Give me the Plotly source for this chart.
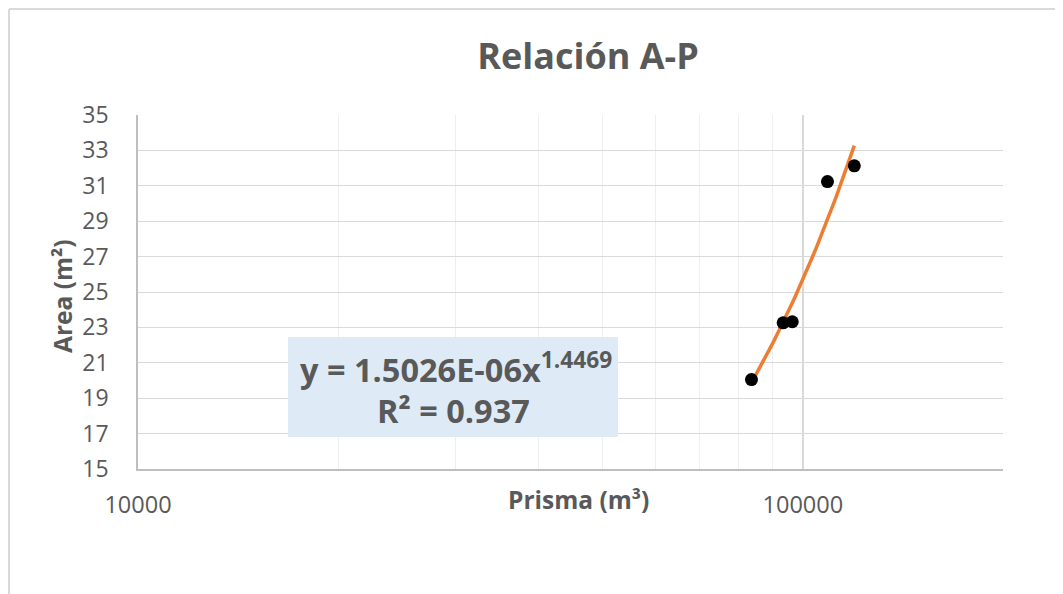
import numpy as np
import plotly.graph_objects as go

# Prisma (m3) vs Area (m2)
prisma = [83700, 93400, 96400, 108900, 119500]
area = [20.05, 23.26, 23.32, 31.24, 32.13]

x_ticks = [10000, 100000]
x_minor = [20000, 30000, 40000, 50000, 60000, 70000, 80000, 90000, 200000]

eq_text = "y = 1.5026E-06x<sup>1.4469</sup>"
r2_text = "R² = 0.937"

TXT = "#595959"
FONT = "Open Sans"

# the page body adds 8px, so the plot area is set 8px up/left of the target
PX0, PY0, PW, PH = 138, 115, 865, 354


def px(x):
    return (x - PX0) / PW


def py(y):
    return (PY0 + PH - y) / PH


# power trendline, least squares in log-log like Excel does
b, a = np.polyfit(np.log10(prisma), np.log10(area), 1)
trend_x = np.geomspace(min(prisma), max(prisma), 60)
trend_y = 10 ** a * trend_x ** b

fig = go.Figure()
fig.add_trace(go.Scatter(
    x=trend_x, y=trend_y, mode="lines",
    line=dict(color="#ED7D31", width=3.5),
    hoverinfo="skip"))
fig.add_trace(go.Scatter(
    x=prisma, y=area, mode="markers",
    marker=dict(color="black", size=13)))

fig.update_layout(
    width=1063, height=594,
    margin=dict(l=PX0 - 8, r=1063 - (PX0 - 8) - PW, t=PY0 - 8, b=594 - (PY0 - 8) - PH),
    plot_bgcolor="white", paper_bgcolor="white",
    showlegend=False,
    font=dict(family=FONT, color=TXT),
    title=dict(text="<b>Relación A-P</b>", x=(588 - 8) / 1063, xanchor="center",
               y=1 - (56 - 8) / 594, yanchor="middle",
               font=dict(size=36, color=TXT, family=FONT)),
)

fig.update_xaxes(
    type="log", range=[4, np.log10(200000)],
    tickvals=x_ticks, ticktext=[str(v) for v in x_ticks],
    tickfont=dict(size=23.5, color=TXT),
    ticklabelstandoff=14,
    showgrid=True, gridcolor="#D9D9D9", gridwidth=1.5,
    minor=dict(tickvals=x_minor, showgrid=True, gridcolor="#EEEEEE", gridwidth=1),
    showline=True, linecolor="#BFBFBF", linewidth=1.5,
    zeroline=False,
)
fig.update_yaxes(
    range=[15, 35], dtick=2, tick0=15,
    tickfont=dict(size=23, color=TXT),
    ticklabelstandoff=23,
    showgrid=True, gridcolor="#D9D9D9", gridwidth=1,
    showline=True, linecolor="#BFBFBF", linewidth=1.5,
    zeroline=False,
)

# axis titles, placed as in the Excel chart
fig.add_annotation(text="<b>Prisma (m³)</b>", xref="paper", yref="paper",
                   x=px(578), y=py(500), xanchor="center", yanchor="middle",
                   showarrow=False, font=dict(size=24.5, color=TXT))
fig.add_annotation(text="<b>Area (m²)</b>", xref="paper", yref="paper",
                   x=px(62), y=py(296), xanchor="center", yanchor="middle",
                   showarrow=False, textangle=-90,
                   font=dict(size=24.5, color=TXT))

# equation box
fig.add_shape(type="rect", xref="paper", yref="paper",
              x0=px(288), x1=px(618), y0=py(437), y1=py(337),
              fillcolor="#DEEBF7", line=dict(width=0), layer="above")
fig.add_annotation(text="<b>" + eq_text + "</b>", xref="paper", yref="paper",
                   x=px(456), y=py(368), xanchor="center", yanchor="middle",
                   showarrow=False, font=dict(size=32.5, color=TXT))
fig.add_annotation(text="<b>" + r2_text + "</b>", xref="paper", yref="paper",
                   x=px(453), y=py(410), xanchor="center", yanchor="middle",
                   showarrow=False, font=dict(size=32.5, color=TXT))

# chart area border (top and left edges visible)
fig.add_shape(type="line", xref="paper", yref="paper",
              x0=px(9), x1=px(1075), y0=py(9), y1=py(9),
              line=dict(color="#D9D9D9", width=2))
fig.add_shape(type="line", xref="paper", yref="paper",
              x0=px(9), x1=px(9), y0=py(9), y1=py(610),
              line=dict(color="#D9D9D9", width=2))

fig.write_html("out.html")
